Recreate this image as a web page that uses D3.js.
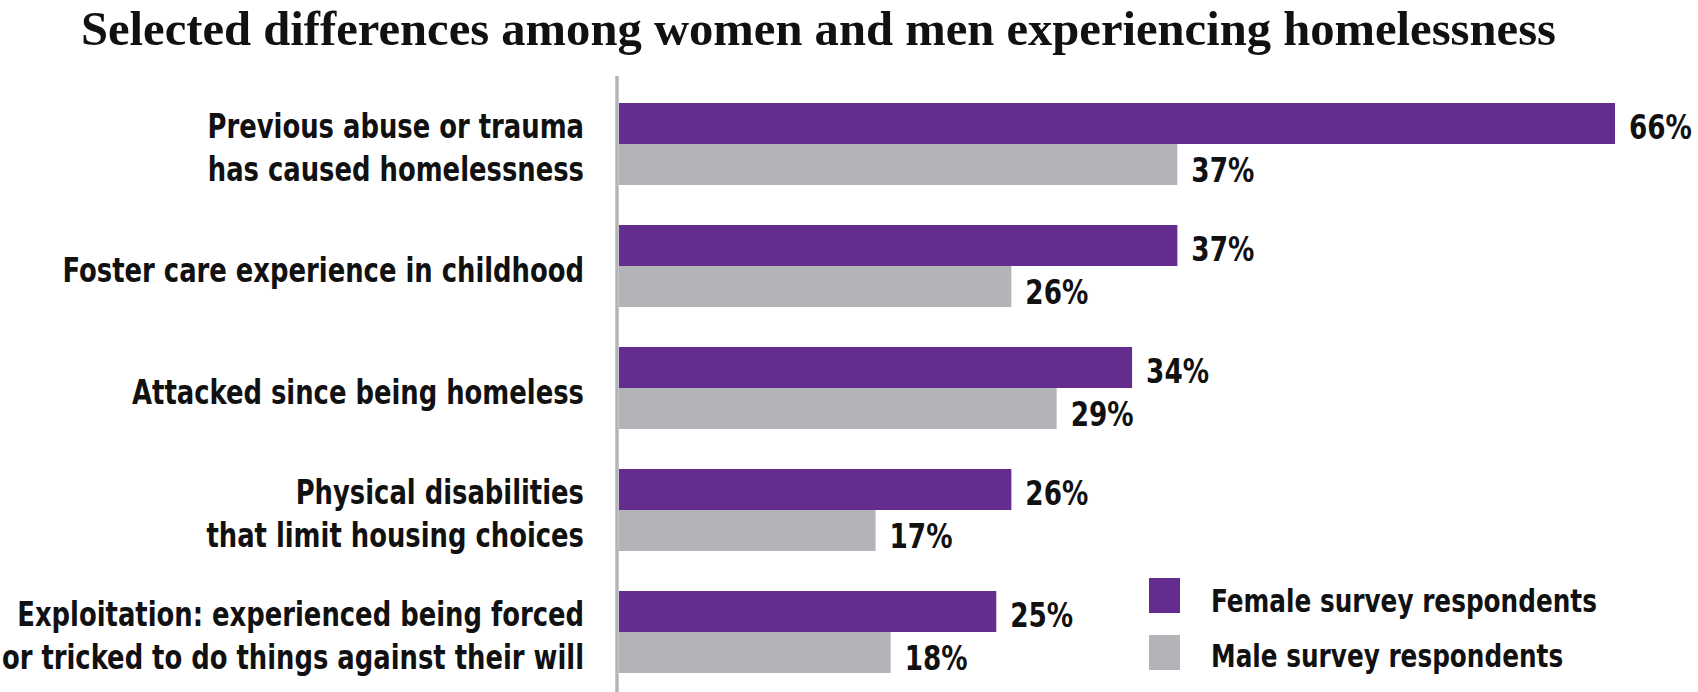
<!DOCTYPE html>
<html>
<head>
<meta charset="utf-8">
<script src="https://cdn.jsdelivr.net/npm/d3@7/dist/d3.min.js"></script>
<style>
  html, body { margin: 0; padding: 0; background: #ffffff; }
  svg { display: block; }
</style>
</head>
<body>
<svg id="chart" width="1698" height="692"></svg>
<script>
const title = "Selected differences among women and men experiencing homelessness";
const categories = [
  ["Previous abuse or trauma", "has caused homelessness"],
  ["Foster care experience in childhood"],
  ["Attacked since being homeless"],
  ["Physical disabilities", "that limit housing choices"],
  ["Exploitation: experienced being forced", "or tricked to do things against their will"]
];
const femaleValues = [66, 37, 34, 26, 25];
const maleValues = [37, 26, 29, 17, 18];
const seriesNames = ["Female survey respondents", "Male survey respondents"];
const seriesKeys = ["female", "male"];

const colors = { female: "#652c8f", male: "#b2b4b7" };
const sansFont = "'DejaVu Sans Condensed', 'Liberation Sans Narrow', 'Arial Narrow', sans-serif";

const svg = d3.select("#chart");
const W = 1698, H = 692;

const x = d3.scaleLinear().domain([0, 66]).range([619, 1615]);
const y = d3.scaleBand().domain(d3.range(categories.length)).range([103, 673]).paddingInner(40 / 122).paddingOuter(0);
const ySub = d3.scaleBand().domain(seriesKeys).range([0, y.bandwidth()]);

const rows = categories.map((c, i) => ({ i, lines: c, female: femaleValues[i], male: maleValues[i] }));

// Title
svg.append("text")
  .attr("x", 81).attr("y", 45)
  .attr("font-family", "'Liberation Serif', 'DejaVu Serif', serif")
  .attr("font-weight", "bold")
  .attr("font-size", 48)
  .attr("fill", "#111")
  .attr("textLength", 1475)
  .attr("lengthAdjust", "spacingAndGlyphs")
  .text(title);

// Bars
const g = svg.append("g");
rows.forEach(r => {
  seriesKeys.forEach(k => {
    g.append("rect")
      .attr("x", x(0))
      .attr("y", y(r.i) + ySub(k))
      .attr("width", x(r[k]) - x(0))
      .attr("height", ySub.bandwidth())
      .attr("fill", colors[k]);
  });
});

// Vertical axis line
svg.append("line")
  .attr("x1", 617).attr("x2", 617)
  .attr("y1", 76).attr("y2", H)
  .attr("stroke", "#b3b5b8").attr("stroke-width", 3.5);

// Helper for condensed text
function condText(sel, xPos, yPos, str, size, anchor, condense) {
  return sel.append("text")
    .attr("transform", `translate(${xPos},${yPos}) scale(${condense},1)`)
    .attr("font-family", sansFont)
    .attr("font-weight", "bold")
    .attr("font-size", size)
    .attr("fill", "#111")
    .attr("text-anchor", anchor || "start")
    .text(str);
}

// Category labels
const lineH = 43;
rows.forEach(r => {
  const cy = y(r.i) + y.bandwidth() / 2;
  const n = r.lines.length;
  const capH = 25;
  r.lines.forEach((ln, j) => {
    const base = cy + (j - (n - 1) / 2) * lineH + capH / 2 + 3;
    condText(svg, 584, base, ln, 34, "end", 0.845);
  });
});

// Value labels
rows.forEach(r => {
  seriesKeys.forEach(k => {
    const cy = y(r.i) + ySub(k) + ySub.bandwidth() / 2;
    const off = k === "female" ? 15 : 17;
    condText(svg, x(r[k]) + 14, cy + off, r[k] + "%", 34, "start", 0.86);
  });
});

// Legend
seriesKeys.forEach((k, i) => {
  const ly = 578 + i * 57;
  svg.append("rect")
    .attr("x", 1149).attr("y", ly)
    .attr("width", 31).attr("height", 35)
    .attr("fill", colors[k]);
  condText(svg, 1211, 612 + i * 55, seriesNames[i], 32, "start", 0.86);
});
</script>
</body>
</html>
